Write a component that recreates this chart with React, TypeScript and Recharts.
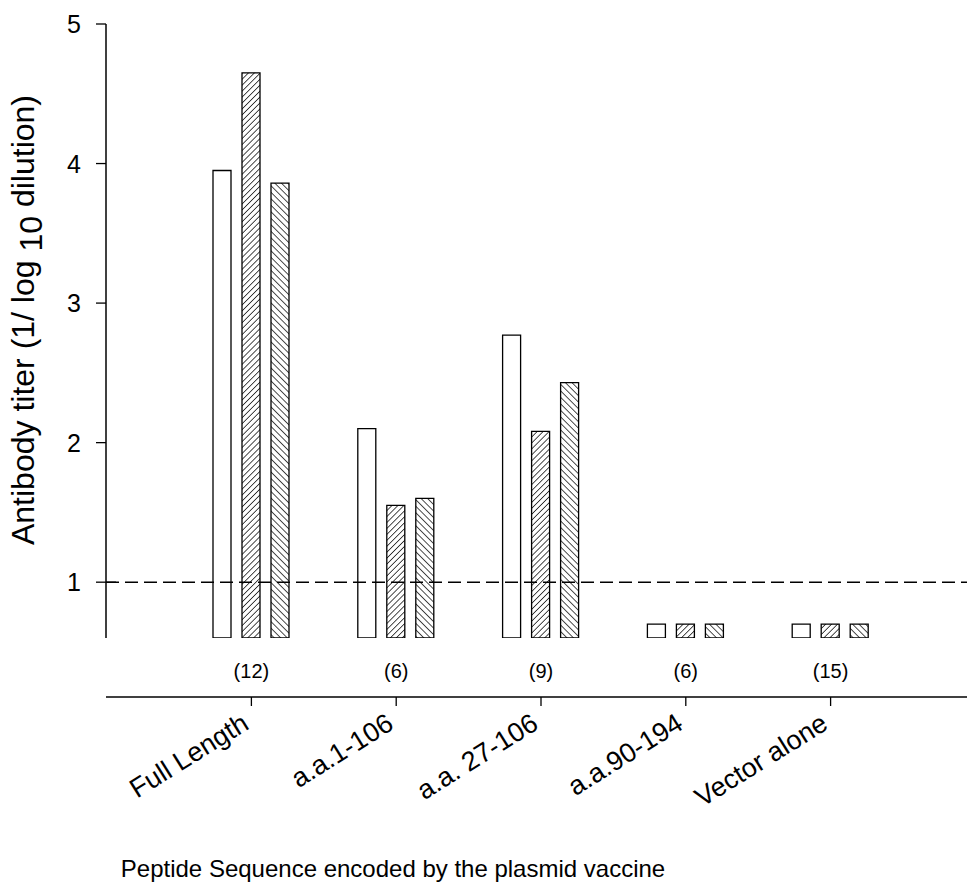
import React from "react";
import { BarChart, Bar, XAxis, YAxis, ReferenceLine, Label } from "recharts";

const categories = ["Full Length", "a.a.1-106", "a.a. 27-106", "a.a.90-194", "Vector alone"];
const counts = ["(12)", "(6)", "(9)", "(6)", "(15)"];
const openBars = [3.95, 2.1, 2.77, 0.7, 0.7];
const forwardHatch = [4.65, 1.55, 2.08, 0.7, 0.7];
const backHatch = [3.86, 1.6, 2.43, 0.7, 0.7];
const yTicks = [1, 2, 3, 4, 5];

const data = categories.map((name, i) => ({
  name,
  open: openBars[i],
  fwd: forwardHatch[i],
  back: backHatch[i],
}));

const FONT = "'Liberation Sans', Arial, sans-serif";

const CountTick = (props: any) => {
  const { x, y, index } = props;
  return (
    <text x={x} y={y} dy={32} textAnchor="middle" fontSize={20} fontFamily={FONT} fill="#000">
      {counts[index]}
    </text>
  );
};

const CategoryTick = (props: any) => {
  const { x, y, payload } = props;
  const ax = x - 1;
  const ay = y + 22;
  return (
    <text
      x={ax}
      y={ay}
      textAnchor="end"
      fontSize={27}
      fontFamily={FONT}
      fill="#000"
      transform={`rotate(-32, ${ax}, ${ay})`}
    >
      {payload.value}
    </text>
  );
};

const ValueTick = (props: any) => {
  const { x, y, payload } = props;
  return (
    <g>
      <text x={x} y={y} dy={9} textAnchor="end" fontSize={25} fontFamily={FONT} fill="#000">
        {payload.value}
      </text>
      {payload.value === 1 && <line x1={x + 25} x2={x + 35} y1={y} y2={y} stroke="#000" strokeWidth={1.3} />}
    </g>
  );
};

const YTitle = () => (
  <text
    x={34}
    y={320}
    textAnchor="middle"
    fontSize={32}
    fontFamily={FONT}
    fill="#000"
    transform="rotate(-90, 34, 320)"
  >
    Antibody titer (1/ log
    <tspan dy={8}> 10</tspan>
    <tspan dy={-8}> dilution)</tspan>
  </text>
);

const XTitle = (props: any) => {
  const { viewBox } = props;
  return (
    <text x={393} y={viewBox.y + viewBox.height - 8} textAnchor="middle" fontSize={24} fontFamily={FONT} fill="#000">
      Peptide Sequence encoded by the plasmid vaccine
    </text>
  );
};

export default function App() {
  return (
    <div style={{ position: "absolute", left: 0, top: 0, background: "#fff" }}>
      <BarChart
        width={967}
        height={885}
        data={data}
        margin={{ top: 24, right: 0, left: 0, bottom: 0 }}
        barSize={18}
        barGap={11}
      >
        <defs>
          <pattern id="hatchFwd" patternUnits="userSpaceOnUse" width={4.2} height={4.2} patternTransform="rotate(45)">
            <rect width={4.2} height={4.2} fill="#fff" />
            <line x1={0} y1={0} x2={0} y2={4.2} stroke="#000" strokeWidth={1.4} />
          </pattern>
          <pattern id="hatchBack" patternUnits="userSpaceOnUse" width={4.6} height={4.6} patternTransform="rotate(-45)">
            <rect width={4.6} height={4.6} fill="#fff" />
            <line x1={0} y1={0} x2={0} y2={4.6} stroke="#000" strokeWidth={1.4} />
          </pattern>
        </defs>
        <XAxis
          xAxisId="a"
          dataKey="name"
          height={59}
          axisLine={false}
          tickLine={false}
          tick={<CountTick />}
          interval={0}
          padding={{ left: 73, right: 64 }}
        />
        <XAxis
          xAxisId="b"
          dataKey="name"
          height={188}
          axisLine={{ stroke: "#000", strokeWidth: 1.5 }}
          tickLine={{ stroke: "#000", strokeWidth: 1.3 }}
          tickSize={9}
          tickMargin={0}
          tick={<CategoryTick />}
          interval={0}
          padding={{ left: 73, right: 64 }}
        >
          <Label content={<XTitle />} />
        </XAxis>
        <YAxis
          width={106}
          domain={[0.6, 5]}
          ticks={yTicks}
          axisLine={{ stroke: "#000", strokeWidth: 1.5 }}
          tickLine={{ stroke: "#000", strokeWidth: 1.3 }}
          tickSize={10}
          tickMargin={15}
          tick={<ValueTick />}
          allowDataOverflow
        >
          <Label content={<YTitle />} />
        </YAxis>
        <Bar xAxisId="a" dataKey="open" fill="#fff" stroke="#000" strokeWidth={1.3} isAnimationActive={false} />
        <Bar xAxisId="a" dataKey="fwd" fill="url(#hatchFwd)" stroke="#000" strokeWidth={1.3} isAnimationActive={false} />
        <Bar xAxisId="a" dataKey="back" fill="url(#hatchBack)" stroke="#000" strokeWidth={1.3} isAnimationActive={false} />
        <ReferenceLine xAxisId="a" y={1} stroke="#000" strokeWidth={1.5} strokeDasharray="13 6" />
      </BarChart>
    </div>
  );
}
